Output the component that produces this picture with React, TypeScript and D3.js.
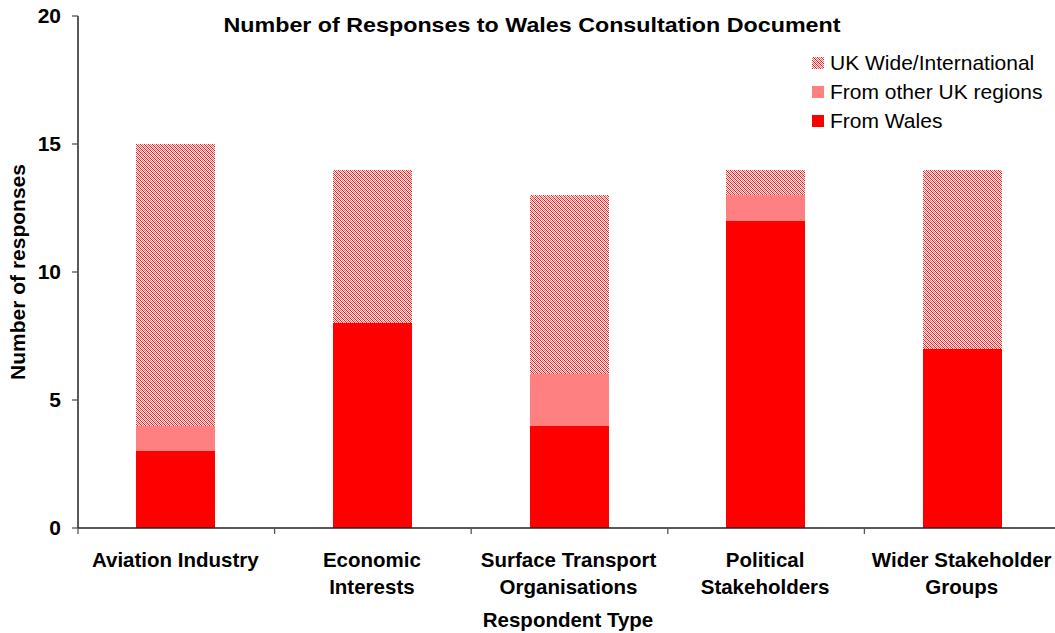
import React from "react";
import * as d3 from "d3";

const categories = [
  ["Aviation Industry"],
  ["Economic", "Interests"],
  ["Surface Transport", "Organisations"],
  ["Political", "Stakeholders"],
  ["Wider Stakeholder", "Groups"],
];
const fromWales = [3, 8, 4, 12, 7];
const fromOtherUK = [1, 0, 2, 1, 0];
const ukWide = [11, 6, 7, 1, 7];
const seriesNames = ["From Wales", "From other UK regions", "UK Wide/International"];
const yTicks = [0, 5, 10, 15, 20];

const W = 1055;
const H = 633;
const FONT = "'Liberation Sans', Arial, sans-serif";

const hatchCells: { x: number; y: number; c: string }[] = [];
for (let py = 0; py < 4; py++) {
  for (let px = 0; px < 4; px++) {
    if ((px + py) % 2 === 0) {
      const d = (((px - py) % 4) + 4) % 4;
      hatchCells.push({ x: px, y: py, c: d === 0 ? "#ff1010" : "#ff6a6a" });
    }
  }
}

export default function App() {
  const x = d3.scaleBand<number>().domain(d3.range(5)).range([77, 1060]).paddingInner(0).paddingOuter(0);
  const y = d3.scaleLinear().domain([0, 20]).range([528, 16]);
  const bw = Math.round(x.bandwidth() * 0.4);
  const fills = ["#ff0000", "#ff8080", "url(#hatch)"];
  const series = [fromWales, fromOtherUK, ukWide];

  return (
    <svg width={W} height={H} style={{ position: "absolute", left: 0, top: 0, background: "#fff" }} fontFamily={FONT}>
      <defs>
        <pattern id="hatch" x={0} y={0} width={4} height={4} patternUnits="userSpaceOnUse">
          <rect width={4} height={4} fill="#ffffff" shapeRendering="crispEdges" />
          {hatchCells.map((c, i) => (
            <rect key={i} x={c.x} y={c.y} width={1} height={1} fill={c.c} shapeRendering="crispEdges" />
          ))}
        </pattern>
      </defs>
      <text x={532} y={32} textAnchor="middle" fontSize={21} fontWeight="bold" textLength={617} lengthAdjust="spacingAndGlyphs">
        Number of Responses to Wales Consultation Document
      </text>
      {categories.map((_, i) => {
        let acc = 0;
        return series.map((s, si) => {
          const v = s[i];
          const y0 = acc;
          acc += v;
          if (v === 0) return null;
          const cx = Math.round((x(i) as number) + x.bandwidth() / 2);
          return (
            <rect key={`${i}-${si}`} x={cx - bw / 2} y={Math.round(y(acc))} width={bw} height={Math.round(y(y0)) - Math.round(y(acc))} fill={fills[si]} shapeRendering="crispEdges" />
          );
        });
      })}
      {/* y axis */}
      <line x1={78} x2={78} y1={y(20)} y2={y(0)} stroke="#000" strokeWidth={1.3} />
      {yTicks.map((t) => (
        <g key={t}>
          <line x1={72} x2={78} y1={y(t)} y2={y(t)} stroke="#555" strokeWidth={1.3} />
          <text x={61} y={y(t) + 7} textAnchor="end" fontSize={21} fontWeight="bold">
            {t}
          </text>
        </g>
      ))}
      {/* x axis */}
      <line x1={78} x2={W} y1={y(0)} y2={y(0)} stroke="#222" strokeWidth={1.3} />
      {d3.range(6).map((i) => {
        const xx = i < 5 ? (x(i) as number) : 1060;
        return <line key={i} x1={xx + 1} x2={xx + 1} y1={y(0)} y2={y(0) + 6} stroke="#555" strokeWidth={1.3} />;
      })}
      {categories.map((lines, i) => {
        const cx = (x(i) as number) + x.bandwidth() / 2;
        return (
          <text key={i} x={cx} textAnchor="middle" fontSize={20.5} fontWeight="bold">
            {lines.map((l, li) => (
              <tspan key={li} x={cx} y={567 + li * 27}>
                {l}
              </tspan>
            ))}
          </text>
        );
      })}
      <text x={568} y={627} textAnchor="middle" fontSize={20.5} fontWeight="bold">
        Respondent Type
      </text>
      <text transform={`translate(25,272) rotate(-90)`} textAnchor="middle" fontSize={21} fontWeight="bold">
        Number of responses
      </text>
      {/* legend */}
      {[2, 1, 0].map((si, k) => (
        <g key={si}>
          <rect x={812} y={57 + k * 29} width={12} height={12} fill={fills[si]} shapeRendering="crispEdges" />
          <text x={830} y={70 + k * 29} fontSize={21}>
            {seriesNames[si]}
          </text>
        </g>
      ))}
    </svg>
  );
}
